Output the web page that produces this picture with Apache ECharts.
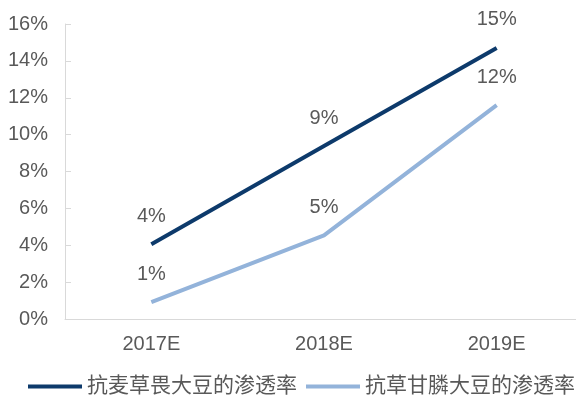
<!DOCTYPE html>
<html><head><meta charset="utf-8">
<script src="https://cdn.jsdelivr.net/npm/echarts@6/dist/echarts.min.js"></script>
<style>html,body{margin:0;padding:0;background:#fff;overflow:hidden}#c{width:584px;height:404px}</style>
</head><body><div id="c"></div>
<script>
const categories = ['2017E', '2018E', '2019E'];
const seriesNames = ['抗麦草畏大豆的渗透率', '抗草甘膦大豆的渗透率'];
const dicamba = [4.05, 9.38, 14.7];
const glyphosate = [0.92, 4.54, 11.6];
const yTicks = { min: 0, max: 16, interval: 2 };

const chart = echarts.init(document.getElementById('c'));
const font = '"Liberation Sans", Arial, "Noto Sans CJK SC", sans-serif';
const lbl = {
  show: true, position: 'top', distance: 18, color: '#595959', fontSize: 20, fontFamily: font,
  formatter: p => Math.round(p.value) + '%'
};
chart.setOption({
  animation: false,
  grid: { left: 65, right: 1, top: 24, bottom: 85 },
  legend: {
    bottom: 2, left: 23, itemWidth: 54, itemHeight: 4, itemGap: 9,
    icon: 'rect',
    textStyle: { color: '#595959', fontSize: 21, fontFamily: font },
    data: seriesNames
  },
  xAxis: {
    type: 'category', data: categories, boundaryGap: true,
    axisLine: { lineStyle: { color: '#d9d9d9', width: 1 } },
    axisTick: { show: false },
    axisLabel: { color: '#595959', fontSize: 20, fontFamily: font, margin: 15 }
  },
  yAxis: {
    type: 'value', min: yTicks.min, max: yTicks.max, interval: yTicks.interval,
    axisLine: { show: true, lineStyle: { color: '#d9d9d9', width: 1 } },
    axisTick: { show: true, inside: true, length: 6, lineStyle: { color: '#d9d9d9' } },
    splitLine: { show: false },
    axisLabel: { color: '#595959', fontSize: 20, fontFamily: font, margin: 17, formatter: v => v + '%' }
  },
  series: [
    { name: seriesNames[0], type: 'line', data: dicamba, symbol: 'circle', symbolSize: 0, showSymbol: true,
      lineStyle: { color: '#0d3a6b', width: 4 }, itemStyle: { color: '#0d3a6b' },
      label: lbl },
    { name: seriesNames[1], type: 'line', data: glyphosate, symbol: 'circle', symbolSize: 0, showSymbol: true,
      lineStyle: { color: '#93b3da', width: 4 }, itemStyle: { color: '#93b3da' },
      label: lbl }
  ]
});
</script></body></html>
